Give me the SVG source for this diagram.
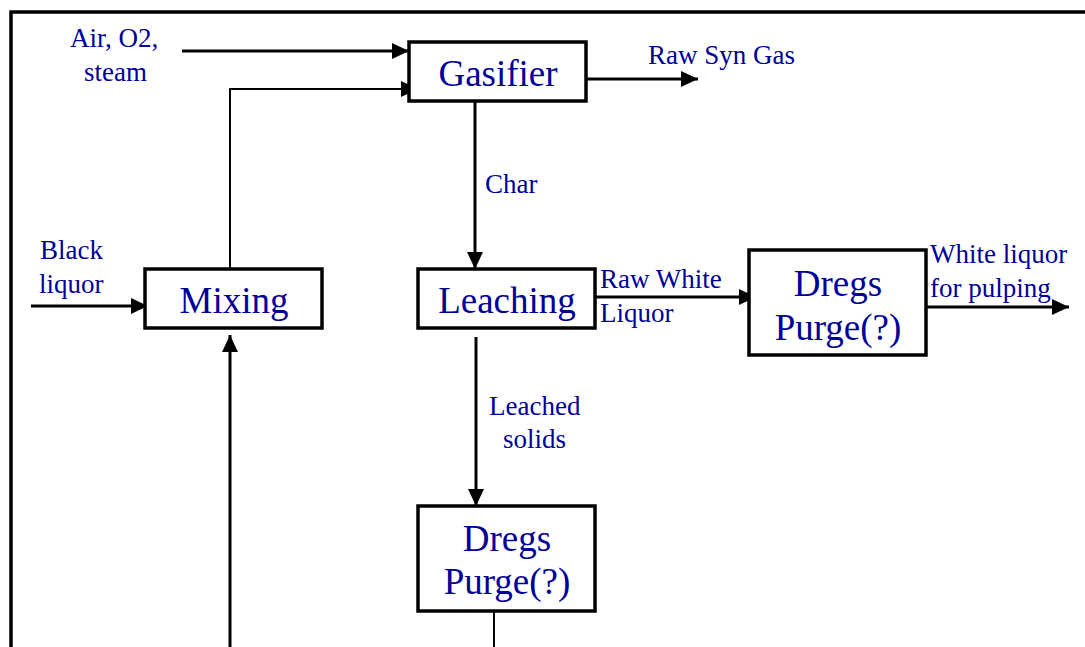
<svg xmlns="http://www.w3.org/2000/svg" width="1085" height="647" viewBox="0 0 1085 647">
<style>
.box{fill:#fff;stroke:#000;stroke-width:3.5}
.nt{font-family:"Liberation Serif","Times New Roman","DejaVu Serif",serif;font-size:37px;fill:#000099;text-anchor:middle}
.lt{font-family:"Liberation Serif","Times New Roman","DejaVu Serif",serif;font-size:27px;fill:#000099}
.c{fill:none;stroke:#000;stroke-width:3}
.thin{fill:none;stroke:#000;stroke-width:2}
</style>
<defs>
<marker id="ah" viewBox="0 0 10 10" refX="10" refY="5" markerWidth="17" markerHeight="16" markerUnits="userSpaceOnUse" orient="auto" preserveAspectRatio="none">
<path d="M0,0 L10,5 L0,10 z" fill="#000"/>
</marker>
</defs>
<rect width="1085" height="647" fill="#fff"/>
<g id="frame">
<path d="M11,647 V12 H1085" fill="none" stroke="#000" stroke-width="3.5"/>
</g>
<g id="connectors">
<path class="c" d="M182,51 H409" marker-end="url(#ah)"/>
<path class="thin" d="M230,269 V89 H418" marker-end="url(#ah)"/>
<path class="c" d="M580,79 H698" marker-end="url(#ah)"/>
<path class="c" d="M475,101 V269" marker-end="url(#ah)"/>
<path class="c" d="M31,306 H148" marker-end="url(#ah)"/>
<path class="c" d="M589,297 H756" marker-end="url(#ah)"/>
<path class="c" d="M920,307 H1069" marker-end="url(#ah)"/>
<path class="c" d="M476,337 V506" marker-end="url(#ah)"/>
<path class="c" d="M230,647 V335" marker-end="url(#ah)"/>
<path class="thin" d="M494,611 V647"/>
</g>
<g id="gasifier">
<rect class="box" x="409" y="42" width="177" height="59"/>
<text class="nt" x="498" y="86">Gasifier</text>
</g>
<g id="mixing">
<rect class="box" x="145" y="269" width="177" height="59"/>
<text class="nt" x="234" y="313">Mixing</text>
</g>
<g id="leaching">
<rect class="box" x="418" y="269" width="177" height="59"/>
<text class="nt" x="507" y="313">Leaching</text>
</g>
<g id="dregs-right">
<rect class="box" x="749" y="250" width="177" height="105"/>
<text class="nt" x="838" y="296">Dregs</text>
<text class="nt" x="838" y="340">Purge(?)</text>
</g>
<g id="dregs-bottom">
<rect class="box" x="418" y="506" width="177" height="105"/>
<text class="nt" x="507" y="551">Dregs</text>
<text class="nt" x="507" y="594">Purge(?)</text>
</g>
<g id="labels">
<text class="lt" x="70" y="47">Air, O2,</text>
<text class="lt" x="84" y="81">steam</text>
<text class="lt" x="648" y="64">Raw Syn Gas</text>
<text class="lt" x="485" y="193">Char</text>
<text class="lt" x="40" y="259">Black</text>
<text class="lt" x="39" y="293">liquor</text>
<text class="lt" x="600" y="288">Raw White</text>
<text class="lt" x="600" y="322">Liquor</text>
<text class="lt" x="930" y="263">White liquor</text>
<text class="lt" x="930" y="297">for pulping</text>
<text class="lt" x="489" y="415">Leached</text>
<text class="lt" x="503" y="448">solids</text>
</g>
</svg>
